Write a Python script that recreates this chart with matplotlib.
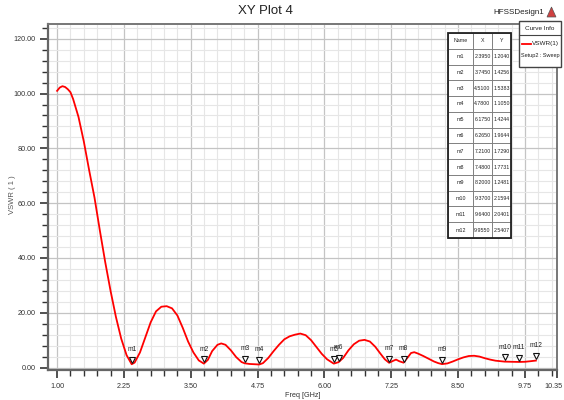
import numpy as np
import matplotlib
matplotlib.use("Agg")
import matplotlib.pyplot as plt
from matplotlib.patches import Rectangle, Polygon
from matplotlib.ticker import MultipleLocator, FixedLocator
from matplotlib.transforms import ScaledTranslation

plt.rcParams['font.family'] = ['Liberation Sans Narrow', 'Liberation Sans', 'DejaVu Sans']

# VSWR(1) sweep
freq = [1.00, 1.05, 1.10, 1.15, 1.20, 1.25, 1.30, 1.40, 1.50, 1.60, 1.70, 1.80,
        1.90, 2.00, 2.10, 2.20, 2.30, 2.395, 2.45, 2.55, 2.65, 2.75, 2.85, 2.95,
        3.05, 3.15, 3.25, 3.35, 3.45, 3.55, 3.65, 3.745, 3.82, 3.90, 4.00, 4.07,
        4.15, 4.25, 4.35, 4.45, 4.51, 4.60, 4.70, 4.78, 4.85, 4.95, 5.05, 5.15,
        5.25, 5.35, 5.45, 5.55, 5.65, 5.75, 5.85, 5.95, 6.05, 6.175, 6.265, 6.35,
        6.45, 6.55, 6.65, 6.75, 6.85, 6.95, 7.05, 7.13, 7.21, 7.28, 7.34, 7.40,
        7.48, 7.55, 7.62, 7.68, 7.75, 7.85, 7.95, 8.05, 8.13, 8.20, 8.30, 8.40,
        8.50, 8.60, 8.70, 8.80, 8.90, 9.00, 9.10, 9.20, 9.37, 9.50, 9.64, 9.75,
        9.85, 9.955]
vswr = [101.0, 102.2, 102.7, 102.4, 101.6, 100.5, 98.0, 91.5, 82.5, 72.0, 62.0, 50.0,
        38.5, 28.0, 18.5, 10.5, 4.5, 1.204, 1.8, 5.5, 11.0, 16.5, 20.5, 22.2,
        22.4, 21.6, 19.0, 14.5, 9.5, 5.5, 2.6, 1.4256, 2.8, 6.0, 8.3, 8.8,
        8.3, 6.3, 3.8, 2.0, 1.5383, 1.3, 1.2, 1.105, 1.6, 3.5, 6.0, 8.3,
        10.3, 11.4, 12.0, 12.4, 11.8, 10.0, 7.5, 5.0, 3.0, 1.4244, 1.9644, 3.5,
        6.3, 8.5, 9.8, 10.1, 9.5, 7.6, 5.0, 3.0, 1.729, 2.4, 2.9, 2.3,
        1.7731, 3.5, 5.3, 5.6, 5.1, 4.2, 3.2, 2.2, 1.6, 1.2481, 1.5, 2.2,
        3.0, 3.7, 4.2, 4.3, 4.0, 3.4, 2.9, 2.5, 2.1594, 2.1, 2.0401, 2.1,
        2.3, 2.5407]

marker_names = ['m1', 'm2', 'm3', 'm4', 'm5', 'm6', 'm7', 'm8', 'm9', 'm10', 'm11', 'm12']
marker_x = [2.3950, 3.7450, 4.5100, 4.7800, 6.1750, 6.2650, 7.2100, 7.4800, 8.2000,
            9.3700, 9.6400, 9.9550]
marker_y = [1.2040, 1.4256, 1.5383, 1.1050, 1.4244, 1.9644, 1.7290, 1.7731, 1.2481,
            2.1594, 2.0401, 2.5407]

x_ticks = [1.00, 2.25, 3.50, 4.75, 6.00, 7.25, 8.50, 9.75, 10.35]
y_ticks = [0, 20, 40, 60, 80, 100, 120]

fig = plt.figure(figsize=(5.64, 4.0), dpi=100)
ax = fig.add_axes([48 / 564, 30 / 400, 509 / 564, 346 / 400])

ax.plot(freq, vswr, color='#ff0000', lw=1.3, zorder=3)

ax.set_xlim(0.83, 10.35)
ax.set_ylim(-0.9, 125.4)
ax.xaxis.set_major_locator(FixedLocator(x_ticks))
ax.xaxis.set_minor_locator(MultipleLocator(0.25))
ax.yaxis.set_major_locator(FixedLocator(y_ticks))
ax.yaxis.set_minor_locator(MultipleLocator(4))
ax.set_xticklabels(['%.2f' % v for v in x_ticks])
ax.set_yticklabels(['%.2f' % v for v in y_ticks])

ax.grid(which='minor', color='#e6e6e6', lw=0.8, zorder=0)
ax.grid(which='major', color='#c4c4c4', lw=0.9, zorder=0)
ax.set_axisbelow(True)

ax.tick_params(which='major', length=6, width=1.2, color='#333333', labelsize=5.2,
               labelcolor='#333333', pad=3)
ax.tick_params(which='minor', length=4, width=1.0, color='#333333')
for side in ['left', 'bottom']:
    ax.spines[side].set_color('#666666')
    ax.spines[side].set_linewidth(1.6)
for side in ['top', 'right']:
    ax.spines[side].set_color('#777777')
    ax.spines[side].set_linewidth(1.4)

# keep the last frequency label inside the figure
last = ax.get_xticklabels()[-1]
last.set_transform(last.get_transform() + ScaledTranslation(-4 / 100, 0, fig.dpi_scale_trans))

ax.set_xlabel('Freq [GHz]', fontsize=5.2, color='#333333', labelpad=2)
fig.text(13 / 564, 1 - 195 / 400, 'VSWR ( 1 )', rotation=90, fontsize=5.5,
         color='#555555', ha='center', va='center')

# marker triangles and names sitting just above each point
tri_off = ax.transData + ScaledTranslation(0, 3 / 72, fig.dpi_scale_trans)
ax.plot(marker_x, marker_y, 'v', ms=4, mfc='white', mec='#111111', mew=0.8,
        transform=tri_off, zorder=4, clip_on=False)
for name, mx, my in zip(marker_names, marker_x, marker_y):
    ax.annotate(name, (mx, my), xytext=(0, 8), textcoords='offset points',
                ha='center', va='bottom', fontsize=4.8, color='#222222', zorder=4)

# marker table
rows = [[n, '%.4f' % x, '%.4f' % y] for n, x, y in zip(marker_names, marker_x, marker_y)]
tbl_left, tbl_w = (448 - 48) / 509, 63 / 509
tbl_bottom, tbl_h = (376 - 238 - 6) / 346, 205 / 346
tbl = ax.table(cellText=rows, colLabels=['Name', 'X', 'Y'],
               colWidths=[25 / 63, 19 / 63, 19 / 63], cellLoc='center',
               bbox=[tbl_left, tbl_bottom, tbl_w, tbl_h], zorder=5)
tbl.auto_set_font_size(False)
tbl.set_fontsize(3.8)
for (r, c), cell in tbl.get_celld().items():
    cell.set_edgecolor('#777777')
    cell.set_linewidth(0.6)
    cell.set_facecolor('white')
    cell.PAD = 0.02
    cell.get_text().set_color('#222222')
ax.add_patch(Rectangle((tbl_left, tbl_bottom), tbl_w, tbl_h, transform=ax.transAxes,
                       fill=False, ec='#222222', lw=1.3, zorder=6))

# title and design name
fig.text(265 / 564, 1 - 11 / 400, 'XY Plot 4', fontsize=9.5, color='#222222',
         ha='center', va='center')
fig.text(544 / 564, 1 - 12 / 400, 'HFSSDesign1', fontsize=5.8, color='#222222',
         ha='right', va='center')
fig.add_artist(Polygon([[547 / 564, 1 - 17 / 400], [551.5 / 564, 1 - 7 / 400],
                        [556 / 564, 1 - 17 / 400]], closed=True, transform=fig.transFigure,
                       fc='#d04040', ec='#555555', lw=0.5))

# curve info box
box_x, box_w = 519 / 564, 42 / 564
box_y, box_h = 1 - 67 / 400, 46 / 400
fig.add_artist(Rectangle((box_x, box_y), box_w, box_h, transform=fig.transFigure,
                         fc='white', ec='#444444', lw=1.0, zorder=7))
fig.add_artist(plt.Line2D([box_x, box_x + box_w], [1 - 35 / 400] * 2,
                          transform=fig.transFigure, color='#444444', lw=0.8, zorder=8))
fig.text(box_x + box_w / 2, 1 - 28 / 400, 'Curve Info', fontsize=4.6, color='#222222',
         ha='center', va='center', zorder=8)
fig.add_artist(plt.Line2D([522 / 564, 531 / 564], [1 - 44 / 400] * 2,
                          transform=fig.transFigure, color='#ff0000', lw=1.3, zorder=8))
fig.text(559 / 564, 1 - 44 / 400, 'VSWR(1)', fontsize=4.6, color='#222222',
         ha='right', va='center', zorder=8)
fig.text(box_x + box_w / 2, 1 - 56 / 400, 'Setup2 : Sweep', fontsize=4.0,
         color='#222222', ha='center', va='center', zorder=8)

fig.savefig('out.png', dpi=100)
